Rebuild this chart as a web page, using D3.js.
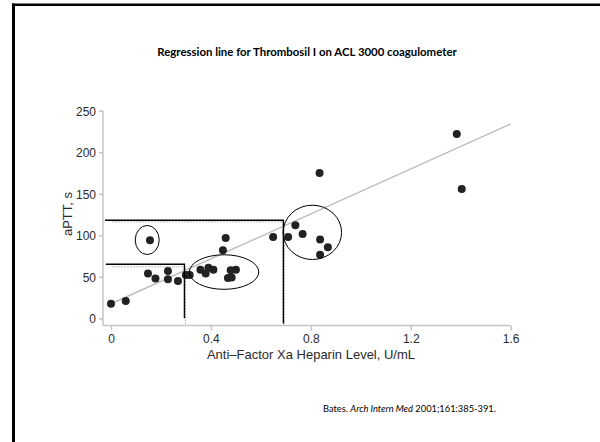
<!DOCTYPE html>
<html>
<head>
<meta charset="utf-8">
<script src="https://cdn.jsdelivr.net/npm/d3@7"></script>
<style>
  body { margin: 0; background: #fff; }
  svg { display: block; }
</style>
</head>
<body>
<script>
// data: anti-Xa level (U/mL) vs aPTT (s)
const xVals = [0, 0.059, 0.148, 0.178, 0.228, 0.228, 0.268, 0.300, 0.315, 0.156,
  0.358, 0.379, 0.390, 0.410, 0.448, 0.459, 0.468, 0.483, 0.479, 0.500,
  0.649, 0.709, 0.738, 0.767, 0.837, 0.837, 0.868, 0.835, 1.384, 1.404]
const yVals = [17.6, 20.8, 54, 48, 57, 47, 45, 52, 52, 94,
  58.5, 54, 61, 58.5, 82, 96.7, 48.5, 49, 58, 58.5,
  98, 98, 112, 101.5, 95, 76.6, 85.5, 175, 222, 155.6]

const xTicks = [0, 0.4, 0.8, 1.2, 1.6]
const yTicks = [0, 50, 100, 150, 200, 250]

// regression line ends
const regX = [0, 1.6]
const regY = [17.5, 234]

// therapeutic range boxes (x cut-off, y cut-off)
const boxX = [0.294, 0.69]
const boxY = [65, 118]
const guideY = [62, 116]

// annotation ellipses: centre and radii in data units
const ellCx = [0.145, 0.4525, 0.806]
const ellCy = [94.3, 55.7, 103.5]
const ellRx = [0.048, 0.139, 0.117]
const ellRy = [17.5, 20.8, 32.7]

const W = 600, H = 442

const svg = d3.select('body').append('svg')
  .attr('width', W)
  .attr('height', H)

// slide frame (top + left edges)
svg.append('rect').attr('x', 12).attr('y', 3.5).attr('width', W - 12).attr('height', 2.5).attr('fill', '#000')
svg.append('rect').attr('x', 12).attr('y', 3.5).attr('width', 3).attr('height', H).attr('fill', '#000')

svg.append('text')
  .attr('x', 307).attr('y', 56)
  .attr('text-anchor', 'middle')
  .style('font-family', 'Lato, "Open Sans", sans-serif')
  .style('font-weight', 'bold')
  .style('font-size', '11.4px')
  .text('Regression line for Thrombosil I on ACL 3000 coagulometer')

const x = d3.scaleLinear().domain([0, 1.6]).range([111, 510.7])
const y = d3.scaleLinear().domain([0, 250]).range([318.3, 110.7])

const axisCol = '#c4c4c4'
const font = '"Liberation Sans", Arial, sans-serif'

// axis lines
const yAxisX = 103, xAxisY = 325.5
svg.append('line').attr('x1', yAxisX).attr('x2', yAxisX).attr('y1', y(250)).attr('y2', xAxisY)
  .attr('stroke', axisCol).attr('stroke-width', 1.5)
svg.append('line').attr('x1', yAxisX).attr('x2', x(1.6)).attr('y1', xAxisY).attr('y2', xAxisY)
  .attr('stroke', axisCol).attr('stroke-width', 1.5)

const gx = svg.append('g').attr('transform', `translate(0,${xAxisY})`)
  .call(d3.axisBottom(x).tickValues(xTicks).tickSize(5).tickPadding(4)
    .tickFormat(d => d === 0 ? '0' : d.toFixed(1)))
const gy = svg.append('g').attr('transform', `translate(${yAxisX},0)`)
  .call(d3.axisLeft(y).tickValues(yTicks).tickSize(4).tickPadding(3))

for (const g of [gx, gy]) {
  g.select('.domain').remove()
  g.selectAll('line').attr('stroke', axisCol).attr('stroke-width', 1.5)
  g.selectAll('text').attr('fill', '#2a2a2a').style('font-family', font).style('font-size', '12px')
}
gy.selectAll('text').attr('dy', '0.36em')

svg.append('text')
  .attr('x', 311).attr('y', 359)
  .attr('text-anchor', 'middle')
  .attr('fill', '#2a2a2a')
  .style('font-family', font).style('font-size', '13px')
  .text('Anti\u2013Factor Xa Heparin Level, U/mL')

svg.append('text')
  .attr('transform', 'translate(72,214) rotate(-90)')
  .attr('text-anchor', 'middle')
  .attr('fill', '#2a2a2a')
  .style('font-family', font).style('font-size', '13px')
  .text('aPTT, s')

// dotted guide lines from the original figure
boxX.forEach((bx, i) => {
  svg.append('path')
    .attr('d', `M${x(0.005)},${y(guideY[i])}H${x(bx) + 1}V${xAxisY}`)
    .attr('fill', 'none').attr('stroke', '#aaa').attr('stroke-width', 1)
    .attr('stroke-dasharray', '1.5,1.5')
})

// regression line
svg.append('line')
  .attr('x1', x(regX[0])).attr('y1', y(regY[0]))
  .attr('x2', x(regX[1])).attr('y2', y(regY[1]))
  .attr('stroke', '#bdbdbd').attr('stroke-width', 1.5)

// points
const pts = xVals.map((v, i) => ({x: v, y: yVals[i]}))
svg.selectAll('circle.pt').data(pts).join('circle')
  .attr('class', 'pt')
  .attr('cx', d => x(d.x))
  .attr('cy', d => y(d.y))
  .attr('r', 4)
  .attr('fill', '#222')

// black annotation boxes
svg.append('path')
  .attr('d', `M${x(-0.021)},${y(boxY[0])}H${x(boxX[0])}V${y(0)}`)
  .attr('fill', 'none').attr('stroke', '#000').attr('stroke-width', 1.4)
svg.append('path')
  .attr('d', `M${x(-0.024)},${y(boxY[1])}H${x(boxX[1])}V${xAxisY - 2}`)
  .attr('fill', 'none').attr('stroke', '#000').attr('stroke-width', 1.4)

// annotation ellipses
const ells = ellCx.map((c, i) => ({cx: c, cy: ellCy[i], rx: ellRx[i], ry: ellRy[i]}))
svg.selectAll('ellipse').data(ells).join('ellipse')
  .attr('cx', d => x(d.cx))
  .attr('cy', d => y(d.cy))
  .attr('rx', d => x(d.rx) - x(0))
  .attr('ry', d => y(0) - y(d.ry))
  .attr('fill', 'none').attr('stroke', '#000').attr('stroke-width', 1)

// citation
const cite = svg.append('text')
  .attr('x', 323).attr('y', 411.5)
  .style('font-family', 'Lato, "Open Sans", sans-serif')
  .style('font-size', '9.3px')
cite.append('tspan').text('Bates. ')
cite.append('tspan').style('font-style', 'italic').text('Arch Intern Med')
cite.append('tspan').text(' 2001;161:385-391.')
</script>
</body>
</html>
